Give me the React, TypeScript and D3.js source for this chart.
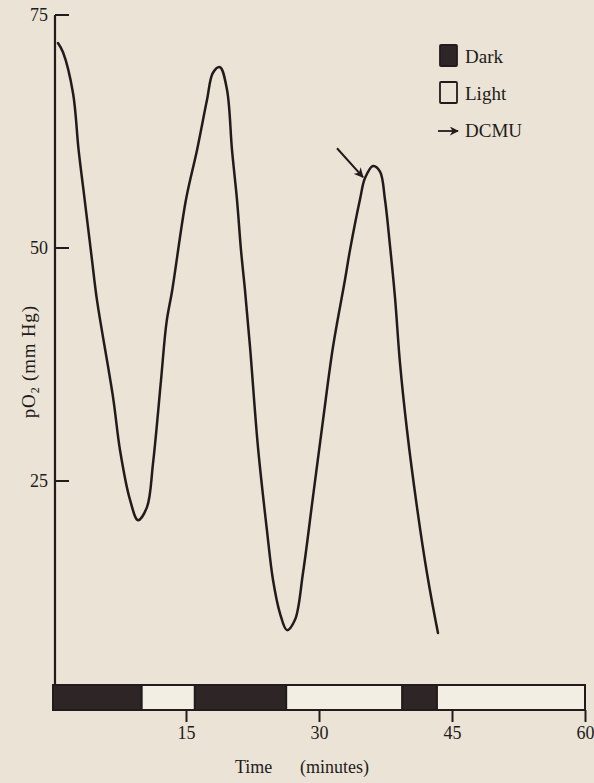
import React, { useEffect, useRef } from "react";
import * as d3 from "d3";

// pO2 trace, time in minutes / value in mm Hg
const timeMin = [
  0.56, 1.13, 2.26, 2.89, 3.57, 4.4, 4.96, 6.77, 7.56, 8.68, 9.59,
  10.6, 11.28, 12.18, 12.8, 13.45, 15.0, 16.24, 17.37, 18.04, 18.83,
  19.62, 20.19, 20.75, 21.2, 21.65, 22.22, 23.12, 24.13, 24.81, 25.6,
  26.39, 27.29, 28.19, 29.32, 30.45, 31.58, 32.93, 33.5, 34.62, 35.19,
  36.09, 36.88, 37.44, 38.0, 38.57, 39.13, 39.92, 41.05, 42.18, 43.42,
];
const pO2 = [
  72.0, 71.0, 66.6, 60.5, 55.2, 48.7, 44.4, 34.0, 28.3, 23.0, 20.8,
  22.2, 26.9, 35.8, 42.0, 45.5, 55.2, 60.5, 65.9, 68.8, 69.4,
  67.0, 60.5, 55.2, 49.8, 45.5, 39.4, 28.6, 19.7, 14.4, 10.8,
  9.0, 10.1, 15.1, 23.3, 31.5, 39.4, 46.6, 49.8, 55.2, 57.5,
  58.8, 58.2, 55.2, 50.3, 44.7, 37.7, 30.5, 22.2, 15.1, 8.7,
];

// dark / light periods along the time bar
const periodStart = [0, 10, 16, 26.3, 39.4, 43.3];
const periodEnd = [10, 16, 26.3, 39.4, 43.3, 60];
const periodType = ["Dark", "Light", "Dark", "Light", "Dark", "Light"];

const xTicks = [15, 30, 45, 60];
const yTicks = [25, 50, 75];

// DCMU addition arrow (time, pO2)
const dcmuFrom = [32.03, 60.7];
const dcmuTo = [34.96, 57.6];

const legendLabels = ["Dark", "Light", "DCMU"];

const W = 594;
const H = 783;
const INK = "#221b1b";
const FONT = "'Liberation Serif', 'DejaVu Serif', serif";

export default function App() {
  const svgRef = useRef<SVGSVGElement | null>(null);

  useEffect(() => {
    const svg = d3.select(svgRef.current);
    svg.selectAll("*").remove();

    const x = d3.scaleLinear().domain([0, 60]).range([53, 585]);
    const y = d3.scaleLinear().domain([0, 75]).range([714, 15]);

    svg.append("rect").attr("width", W).attr("height", H).attr("fill", "#ebe3d5");

    const defs = svg.append("defs");
    defs
      .append("marker")
      .attr("id", "head")
      .attr("viewBox", "0 0 10 10")
      .attr("refX", 9)
      .attr("refY", 5)
      .attr("markerWidth", 5)
      .attr("markerHeight", 5)
      .attr("orient", "auto")
      .append("path")
      .attr("d", "M0,0 L10,5 L0,10 L3,5 Z")
      .attr("fill", INK);

    // y axis line
    const axisX = 55;
    svg
      .append("line")
      .attr("x1", axisX)
      .attr("x2", axisX)
      .attr("y1", y(75))
      .attr("y2", 710)
      .attr("stroke", INK)
      .attr("stroke-width", 2.2);

    // y ticks point inward
    svg
      .selectAll(".ytick")
      .data(yTicks)
      .enter()
      .append("line")
      .attr("x1", axisX)
      .attr("x2", axisX + 14)
      .attr("y1", (d) => y(d))
      .attr("y2", (d) => y(d))
      .attr("stroke", INK)
      .attr("stroke-width", 2);

    svg
      .selectAll(".ylab")
      .data(yTicks)
      .enter()
      .append("text")
      .attr("x", 48)
      .attr("y", (d) => y(d) + 6)
      .attr("text-anchor", "end")
      .attr("font-family", FONT)
      .attr("font-size", 18)
      .attr("fill", INK)
      .text((d) => d);

    // y axis title
    const yt = svg
      .append("text")
      .attr("transform", `translate(35,${y(37.8)}) rotate(-90)`)
      .attr("text-anchor", "middle")
      .attr("font-family", FONT)
      .attr("font-size", 19)
      .attr("letter-spacing", 0.8)
      .attr("fill", INK);
    yt.append("tspan").text("pO");
    yt.append("tspan").attr("font-size", 12).attr("dy", 4).text("2");
    yt.append("tspan").attr("dy", -4).text(" (mm Hg)");

    // time bar
    const barTop = 685;
    const barBottom = 710;
    svg
      .selectAll(".period")
      .data(periodStart.map((s, i) => ({ s, e: periodEnd[i], t: periodType[i] })))
      .enter()
      .append("rect")
      .attr("x", (d) => x(d.s))
      .attr("width", (d) => x(d.e) - x(d.s))
      .attr("y", barTop)
      .attr("height", barBottom - barTop)
      .attr("fill", (d) => (d.t === "Dark" ? "#2e2626" : "#f3eee4"))
      .attr("stroke", INK)
      .attr("stroke-width", 2);

    svg
      .append("g")
      .attr("transform", `translate(0,${barBottom})`)
      .call(
        d3
          .axisBottom(x)
          .tickValues(xTicks)
          .tickSize(12)
          .tickPadding(4)
          .tickSizeOuter(0)
      )
      .call((g) => g.select(".domain").remove())
      .call((g) => g.selectAll("line").attr("stroke", INK).attr("stroke-width", 2))
      .call((g) =>
        g
          .selectAll("text")
          .attr("font-family", FONT)
          .attr("font-size", 18)
          .attr("fill", INK)
      );

    const xt = svg
      .append("text")
      .attr("y", 773)
      .attr("font-family", FONT)
      .attr("font-size", 18)
      .attr("fill", INK);
    xt.append("tspan").attr("x", 235).text("Time");
    xt.append("tspan").attr("x", 300).text("(minutes)");

    // pO2 curve
    const line = d3
      .line<number>()
      .x((d, i) => x(timeMin[i]))
      .y((d) => y(d))
      .curve(d3.curveCatmullRom.alpha(0.5));

    svg
      .append("path")
      .datum(pO2)
      .attr("d", line)
      .attr("fill", "none")
      .attr("stroke", INK)
      .attr("stroke-width", 2.5)
      .attr("stroke-linecap", "round");

    // DCMU arrow on the curve
    svg
      .append("line")
      .attr("x1", x(dcmuFrom[0]))
      .attr("y1", y(dcmuFrom[1]))
      .attr("x2", x(dcmuTo[0]))
      .attr("y2", y(dcmuTo[1]))
      .attr("stroke", INK)
      .attr("stroke-width", 2)
      .attr("marker-end", "url(#head)");

    // legend
    const lg = svg.append("g").attr("transform", "translate(440,45)");
    const rowH = 37;
    legendLabels.forEach((lab, i) => {
      const row = lg.append("g").attr("transform", `translate(0,${i * rowH})`);
      if (lab === "DCMU") {
        row
          .append("line")
          .attr("x1", -2)
          .attr("x2", 18)
          .attr("y1", 12)
          .attr("y2", 12)
          .attr("stroke", INK)
          .attr("stroke-width", 1.8)
          .attr("marker-end", "url(#head)");
      } else {
        row
          .append("rect")
          .attr("width", 17)
          .attr("height", 21)
          .attr("fill", lab === "Dark" ? "#2e2626" : "none")
          .attr("stroke", INK)
          .attr("stroke-width", 1.8)
          .attr("rx", 1);
      }
      row
        .append("text")
        .attr("x", 25)
        .attr("y", 18)
        .attr("font-family", FONT)
        .attr("font-size", 19)
        .attr("fill", INK)
        .text(lab);
    });
  }, []);

  return (
    <svg
      ref={svgRef}
      width={W}
      height={H}
      style={{ position: "absolute", left: 0, top: 0 }}
    />
  );
}
